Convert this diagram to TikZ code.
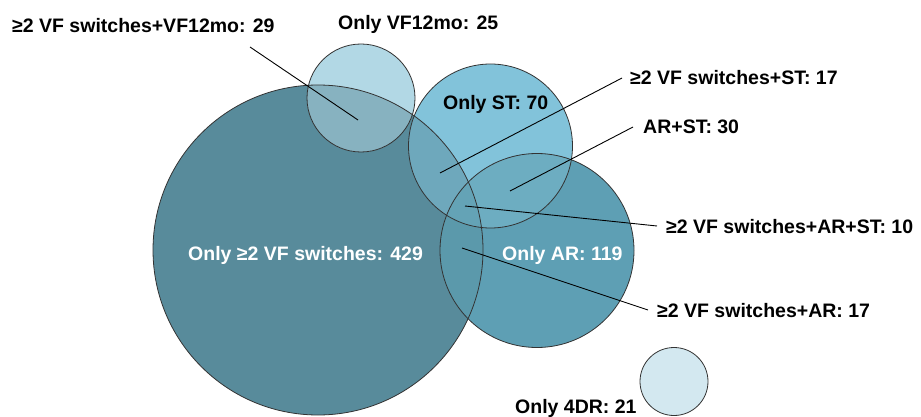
\documentclass[tikz,border=0pt]{standalone}
\usepackage{fontspec}
\setmainfont{Liberation Sans}
\begin{document}
\begin{tikzpicture}[x=1pt,y=-1pt,
  outline/.style={draw=black!80,line width=0.8pt},
  lbl/.style={anchor=base west,inner sep=0pt,font=\fontsize{19.5}{20}\selectfont\bfseries},
  wlbl/.style={lbl,text=white},
  leader/.style={draw=black,line width=0.9pt}]
\useasboundingbox (0,0) rectangle (921,417);
\definecolor{cbig}{RGB}{88,139,155}
\definecolor{cvf}{RGB}{178,216,229}
\definecolor{cst}{RGB}{130,195,218}
\definecolor{car}{RGB}{94,159,180}
\definecolor{cdr}{RGB}{211,232,240}
\definecolor{cbigvf}{RGB}{135,178,192}
\definecolor{cbigst}{RGB}{110,168,188}
\definecolor{cbigar}{RGB}{91,153,171}
\definecolor{carst}{RGB}{109,173,193}
\definecolor{call}{RGB}{100,163,182}
\def\cbig{(318,250) circle (165)}
\def\cvf{(361,98) circle (54)}
\def\cst{(490.5,146) circle (82)}
\def\car{(537,250.5) circle (97)}
\def\cdr{(674,381.5) circle (34)}
\begin{scope}
\clip (0,0) rectangle (921,417);
\fill[cbig] \cbig;
\fill[cvf] \cvf;
\fill[cst] \cst;
\fill[car] \car;
\fill[cdr] \cdr;
\begin{scope}
\clip \cst;
\fill[carst] \car;
\end{scope}
\begin{scope}
\clip \cbig;
\fill[cbigvf] \cvf;
\fill[cbigst] \cst;
\fill[cbigar] \car;
\begin{scope}
\clip \cst;
\fill[call] \car;
\end{scope}
\end{scope}
\draw[outline] \cbig;
\draw[outline] \cvf;
\draw[outline] \cst;
\draw[outline] \car;
\draw[outline] \cdr;
\end{scope}
% inner anchor points
\coordinate (pvf) at (358,120);
\coordinate (pst) at (440,173);
\coordinate (parst) at (510,191);
\coordinate (pall) at (465,206);
\coordinate (par) at (462,248);
% labels
\node[lbl] (lvf) at (12,33) {≥2 VF switches+VF12mo: 29};
\node[lbl] (lovf) at (338,30) {Only VF12mo: 25};
\node[lbl] (lost) at (443,110) {Only ST: 70};
\node[lbl] (lst) at (630,85) {≥2 VF switches+ST: 17};
\node[lbl] (larst) at (643,134) {AR+ST: 30};
\node[lbl] (lall) at (666,233) {≥2 VF switches+AR+ST: 10};
\node[lbl] (lar) at (657,317) {≥2 VF switches+AR: 17};
\node[wlbl] (lobig) at (188,260) {Only ≥2 VF switches: 429};
\node[wlbl] (loar) at (502,260) {Only AR: 119};
\node[lbl] (lodr) at (515,413.5) {Only 4DR: 21};
% leaders
\coordinate (evf) at (250,47);
\coordinate (est) at (622,78);
\coordinate (earst) at (633,127);
\coordinate (eall) at (657,226);
\coordinate (ear) at (648,310);
\draw[leader] (evf) -- (pvf);
\draw[leader] (est) -- (pst);
\draw[leader] (earst) -- (parst);
\draw[leader] (eall) -- (pall);
\draw[leader] (ear) -- (par);
\end{tikzpicture}
\end{document}
